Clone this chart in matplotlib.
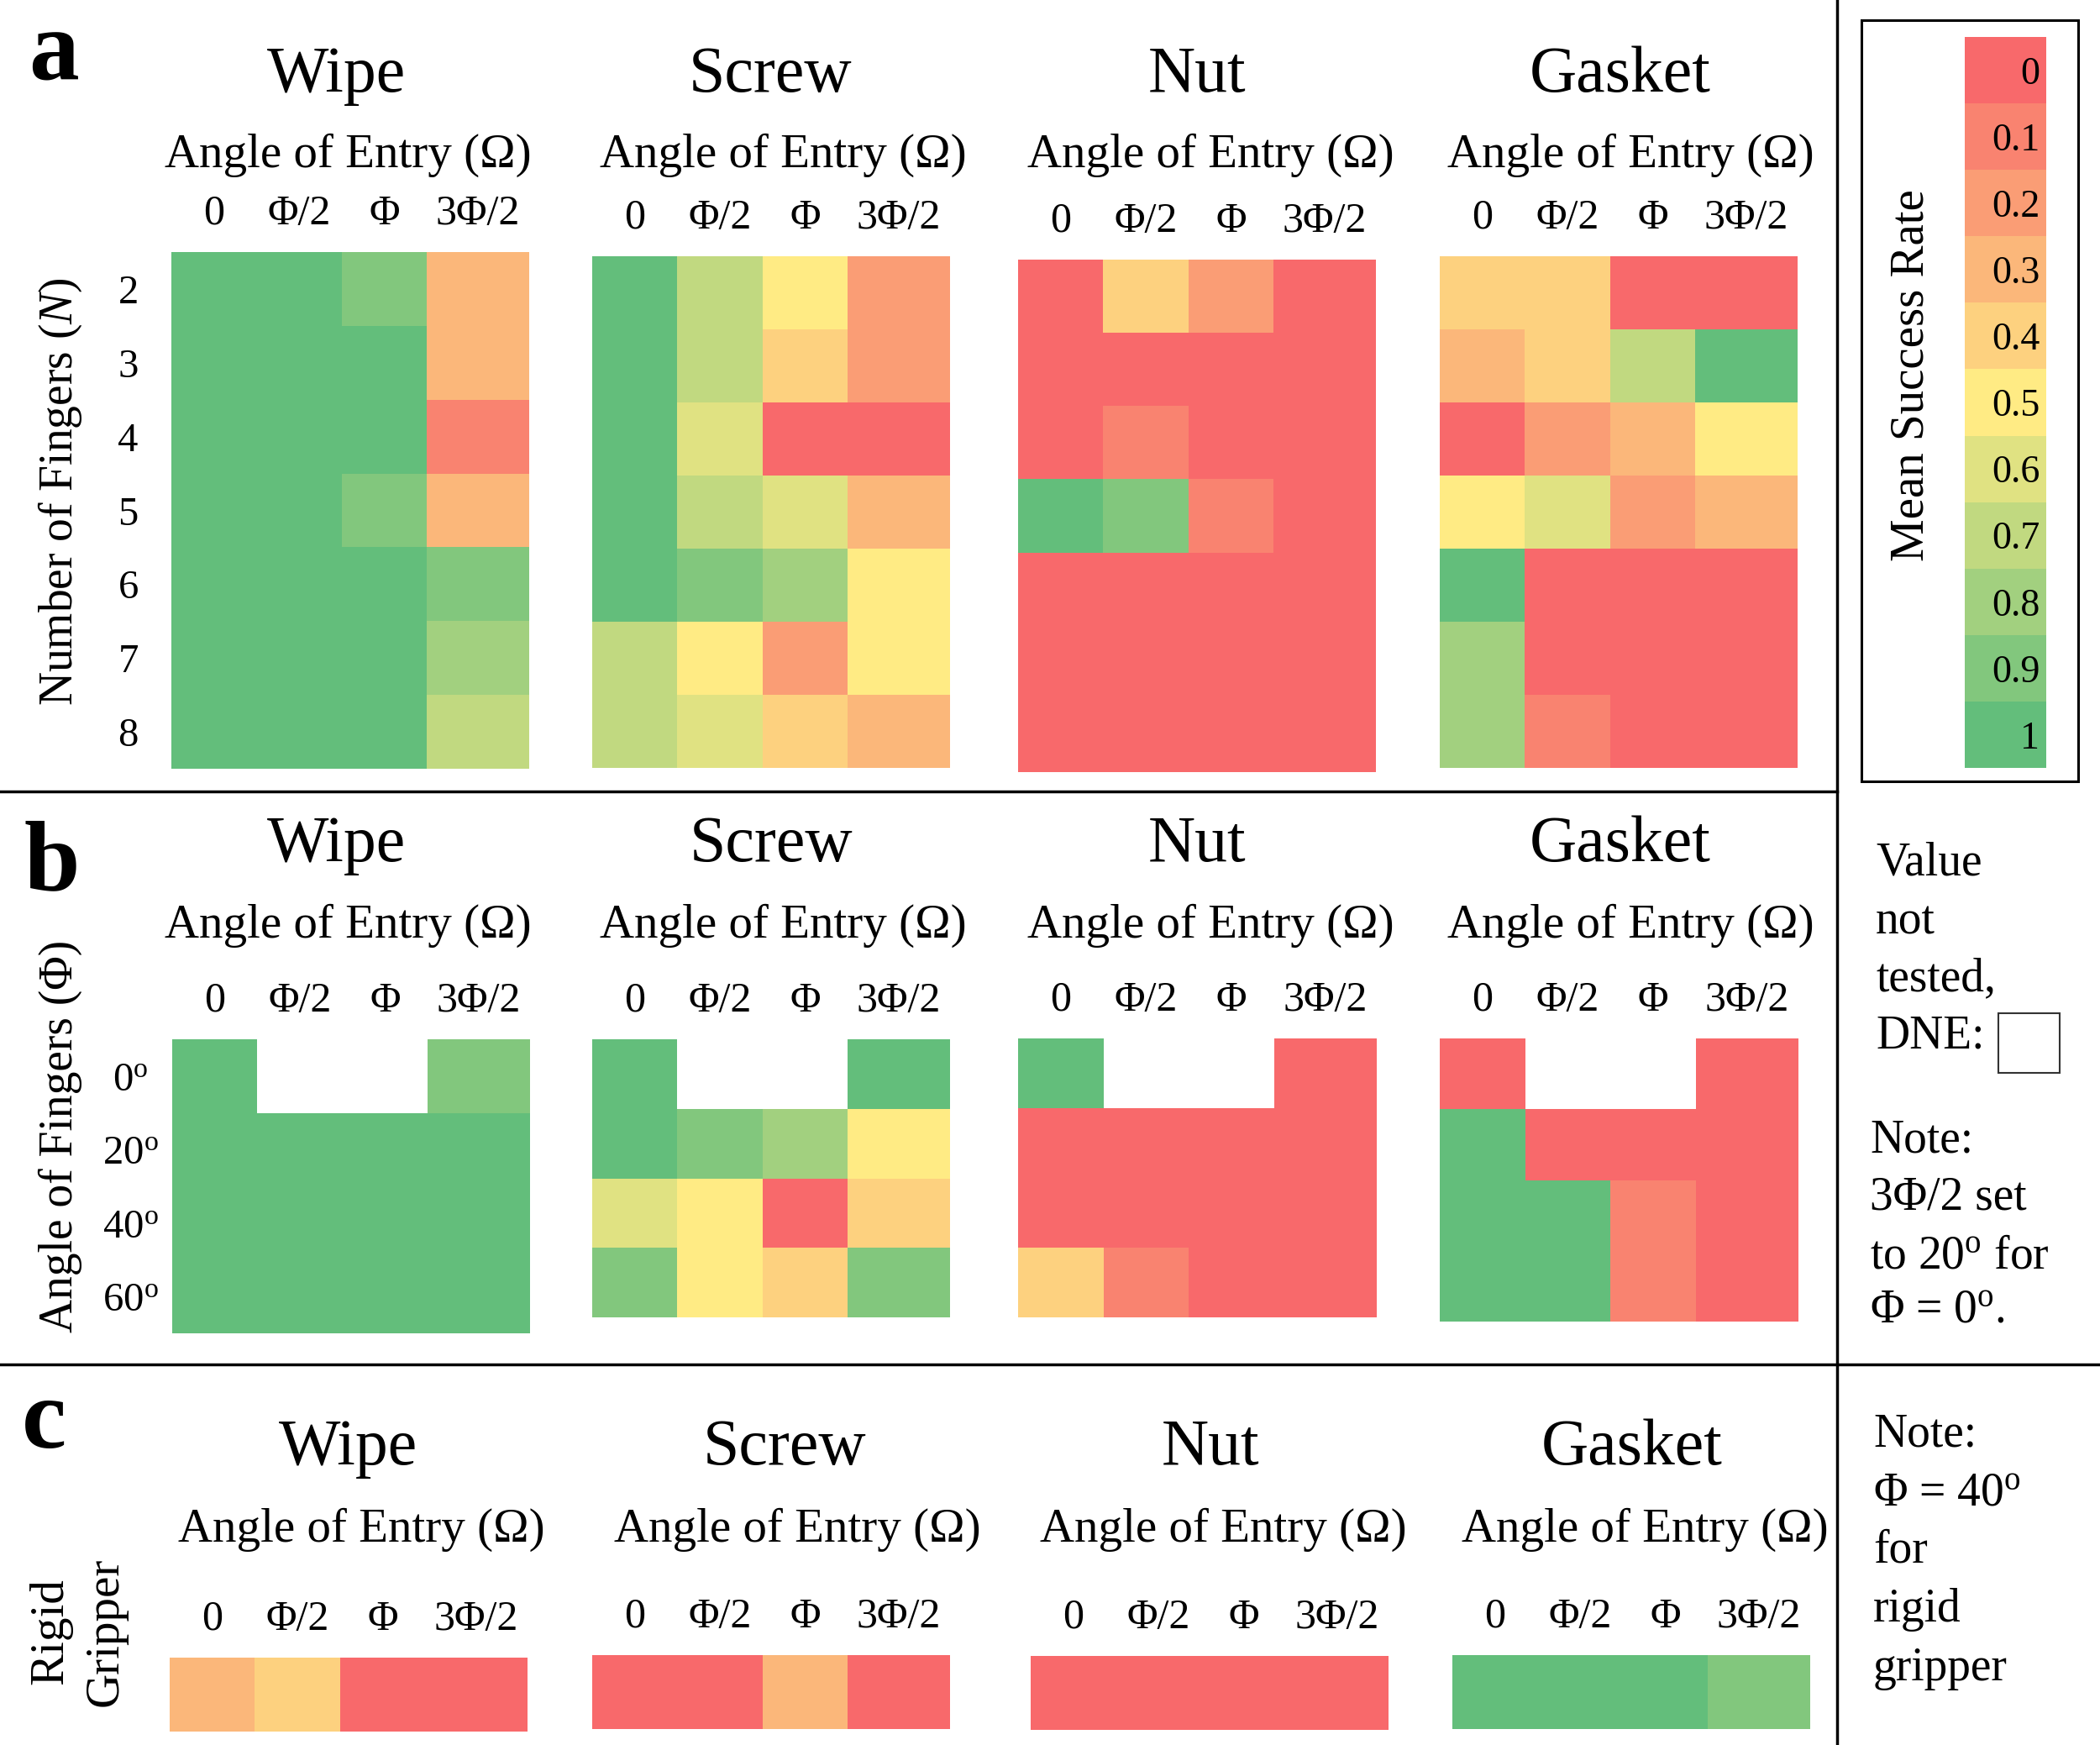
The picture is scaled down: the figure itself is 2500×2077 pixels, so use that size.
import numpy as np
import matplotlib
matplotlib.use("Agg")
import matplotlib.pyplot as plt
from matplotlib.colors import ListedColormap, BoundaryNorm
from matplotlib.patches import Rectangle
from matplotlib.lines import Line2D

plt.rcParams["font.family"] = ["Liberation Serif", "DejaVu Serif"]
plt.rcParams["mathtext.fontset"] = "custom"
plt.rcParams["mathtext.rm"] = "Liberation Serif"
plt.rcParams["mathtext.it"] = "Liberation Serif:italic"

nan = np.nan

# etiquetas
tasks = ["Wipe", "Screw", "Nut", "Gasket"]
entry_labels = ["0", "Φ/2", "Φ", "3Φ/2"]
fingers_n = ["2", "3", "4", "5", "6", "7", "8"]
finger_angles = ["$0^{\\mathrm{o}}$", "$20^{\\mathrm{o}}$", "$40^{\\mathrm{o}}$", "$60^{\\mathrm{o}}$"]
scale_levels = [0, 0.1, 0.2, 0.3, 0.4, 0.5, 0.6, 0.7, 0.8, 0.9, 1]
scale_labels = ["0", "0.1", "0.2", "0.3", "0.4", "0.5", "0.6", "0.7", "0.8", "0.9", "1"]

# a) numero de dedos (filas N=2..8, columnas angulo de entrada)
a_wipe = [[1, 1, .9, .3], [1, 1, 1, .3], [1, 1, 1, .1], [1, 1, .9, .3],
          [1, 1, 1, .9], [1, 1, 1, .8], [1, 1, 1, .7]]
a_screw = [[1, .7, .5, .2], [1, .7, .4, .2], [1, .6, 0, 0], [1, .7, .6, .3],
           [1, .9, .8, .5], [.7, .5, .2, .5], [.7, .6, .4, .3]]
a_nut = [[0, .4, .2, 0], [0, 0, 0, 0], [0, .1, 0, 0], [1, .9, .1, 0],
         [0, 0, 0, 0], [0, 0, 0, 0], [0, 0, 0, 0]]
a_gasket = [[.4, .4, 0, 0], [.3, .4, .7, 1], [0, .2, .3, .5], [.5, .6, .2, .3],
            [1, 0, 0, 0], [.8, 0, 0, 0], [.8, .1, 0, 0]]

# b) angulo de dedos (filas 0,20,40,60 grados)
b_wipe = [[1, nan, nan, .9], [1, 1, 1, 1], [1, 1, 1, 1], [1, 1, 1, 1]]
b_screw = [[1, nan, nan, 1], [1, .9, .8, .5], [.6, .5, 0, .4], [.9, .5, .4, .9]]
b_nut = [[1, nan, nan, 0], [0, 0, 0, 0], [0, 0, 0, 0], [.4, .1, 0, 0]]
b_gasket = [[0, nan, nan, 0], [1, 0, 0, 0], [1, 1, .1, 0], [1, 1, .1, 0]]

# c) gripper rigido
c_wipe = [.3, .4, 0, 0]
c_screw = [0, 0, .3, 0]
c_nut = [0, 0, 0, 0]
c_gasket = [1, 1, 1, .9]

scale_colors = ["#F8696B", "#F98370", "#FA9D75", "#FBB77A", "#FDD17F", "#FFEB84",
                "#E0E282", "#C1D980", "#A2D07F", "#82C77D", "#63BE7B"]
cmap = ListedColormap(scale_colors)
cmap.set_bad("white")
norm = BoundaryNorm(np.linspace(-0.05, 1.05, 12), 11)
col_edges = np.array([0, 1, 2, 3, 4.2])

W, H = 2500, 2077
fig = plt.figure(figsize=(25, 20.77), dpi=100)


def px_ax(x0, x1, y0, y1):
    return fig.add_axes([x0 / W, 1 - y1 / H, (x1 - x0) / W, (y1 - y0) / H])


def ftext(x, y, s, **kw):
    fig.text(x / W, 1 - y / H, s, **kw)


def heat(box, values, rows=None, row_pad=0):
    ax = px_ax(*box)
    vals = np.ma.masked_invalid(np.atleast_2d(np.array(values, dtype=float)))
    nrow = vals.shape[0]
    ax.pcolormesh(col_edges, np.arange(nrow + 1), vals, cmap=cmap, norm=norm)
    ax.set_xlim(0, col_edges[-1])
    ax.set_ylim(nrow, 0)
    ax.xaxis.tick_top()
    ax.set_xticks((col_edges[:-1] + col_edges[1:]) / 2, entry_labels, fontsize=36)
    for t in ax.get_xticklabels():
        t.set_va("baseline")
    ax.tick_params(axis="x", length=0, pad=24)
    if rows is not None:
        ax.set_yticks(np.arange(nrow) + 0.5, rows, fontsize=35)
        for t in ax.get_yticklabels():
            t.set_va("center_baseline")
            t.set_ha("center")
        ax.tick_params(axis="y", length=0, pad=row_pad)
    else:
        ax.set_yticks([])
    for s in ax.spines.values():
        s.set_visible(False)
    return ax


# ---- panel a
heat((204, 630, 300, 915), a_wipe, fingers_n, 37)
heat((705, 1131, 305, 914), a_screw)
heat((1212, 1638, 309, 919), a_nut)
heat((1714, 2140, 305, 914), a_gasket)
for x, t in zip([401, 917, 1425, 1929], tasks):
    ftext(x, 109, t, fontsize=56, ha="center", va="baseline")
for x in [414, 932, 1441, 1941]:
    ftext(x, 199, "Angle of Entry (Ω)", fontsize=41, ha="center", va="baseline")
ftext(64, 94, "a", fontsize=86, fontweight="bold", ha="center", va="baseline")
ftext(72, 585, "Number of Fingers ($N$)", fontsize=40, rotation=90, ha="center", va="center")

# ---- panel b
heat((205, 631, 1237, 1587), b_wipe, finger_angles, 36)
heat((705, 1131, 1237, 1568), b_screw)
heat((1212, 1639, 1236, 1568), b_nut)
heat((1714, 2141, 1236, 1573), b_gasket)
for x, t in zip([401, 918, 1425, 1929], tasks):
    ftext(x, 1025, t, fontsize=56, ha="center", va="baseline")
for x in [414, 932, 1441, 1941]:
    ftext(x, 1116, "Angle of Entry (Ω)", fontsize=41, ha="center", va="baseline")
ftext(62, 1058, "b", fontsize=86, fontweight="bold", ha="center", va="baseline")
ftext(72, 1352, "Angle of Fingers (Φ)", fontsize=40, rotation=90, ha="center", va="center")

# ---- panel c
heat((202, 628, 1973, 2061), c_wipe)
heat((705, 1131, 1970, 2058), c_screw)
heat((1227, 1653, 1971, 2059), c_nut)
heat((1729, 2155, 1970, 2058), c_gasket)
for x, t in zip([415, 934, 1441, 1943], tasks):
    ftext(x, 1743, t, fontsize=56, ha="center", va="baseline")
for x in [430, 949, 1456, 1958]:
    ftext(x, 1835, "Angle of Entry (Ω)", fontsize=41, ha="center", va="baseline")
ftext(52, 1723, "c", fontsize=86, fontweight="bold", ha="center", va="baseline")
ftext(93, 1942, "Rigid\nGripper", fontsize=41, rotation=90,
      ha="center", va="center", linespacing=1.35)

# ---- escala de colores
cax = px_ax(2339, 2436, 44, 914)
cax.pcolormesh([0, 1], np.arange(len(scale_levels) + 1),
               np.array(scale_levels)[:, None], cmap=cmap, norm=norm)
cax.set_xlim(0, 1)
cax.set_ylim(len(scale_levels), 0)
cax.axis("off")
for i, lab in enumerate(scale_labels):
    cax.text(0.92, i + 0.5, lab, fontsize=33, ha="right", va="center_baseline")
ftext(2276, 447, "Mean Success Rate", fontsize=41, rotation=90, ha="center", va="center")
fig.add_artist(Rectangle((2216 / W, 1 - 930 / H), (2474 - 2216) / W, (930 - 24) / H,
                         fill=False, lw=2.2, edgecolor="black", transform=fig.transFigure))

# ---- notas
for y, s in zip([1042, 1112, 1179, 1248], ["Value", "not", "tested,", "DNE:"]):
    ftext(2233, y, s, fontsize=40, ha="left", va="baseline")
fig.add_artist(Rectangle((2379 / W, 1 - 1277 / H), (2452 - 2379) / W, (1277 - 1206) / H,
                         fill=False, lw=1.5, edgecolor="#333333", transform=fig.transFigure))
for y, s in zip([1371, 1440, 1509, 1574],
                ["Note:", "3Φ/2 set", "to 20$^{\\mathrm{o}}$ for", "Φ = 0$^{\\mathrm{o}}$."]):
    ftext(2226, y, s, fontsize=40, ha="left", va="baseline")
for y, s in zip([1722, 1791, 1860, 1930, 2000],
                ["Note:", "Φ = 40$^{\\mathrm{o}}$", "for", "rigid", "gripper"]):
    ftext(2230, y, s, fontsize=40, ha="left", va="baseline")

# ---- lineas separadoras
fig.add_artist(Line2D([0, 2187 / W], [1 - 942 / H] * 2, color="black", lw=2.5,
                      transform=fig.transFigure))
fig.add_artist(Line2D([0, 1], [1 - 1624 / H] * 2, color="black", lw=2.5,
                      transform=fig.transFigure))
fig.add_artist(Line2D([2187 / W] * 2, [0, 1], color="black", lw=2.5,
                      transform=fig.transFigure))

fig.savefig("out.png", dpi=100, facecolor="white")
